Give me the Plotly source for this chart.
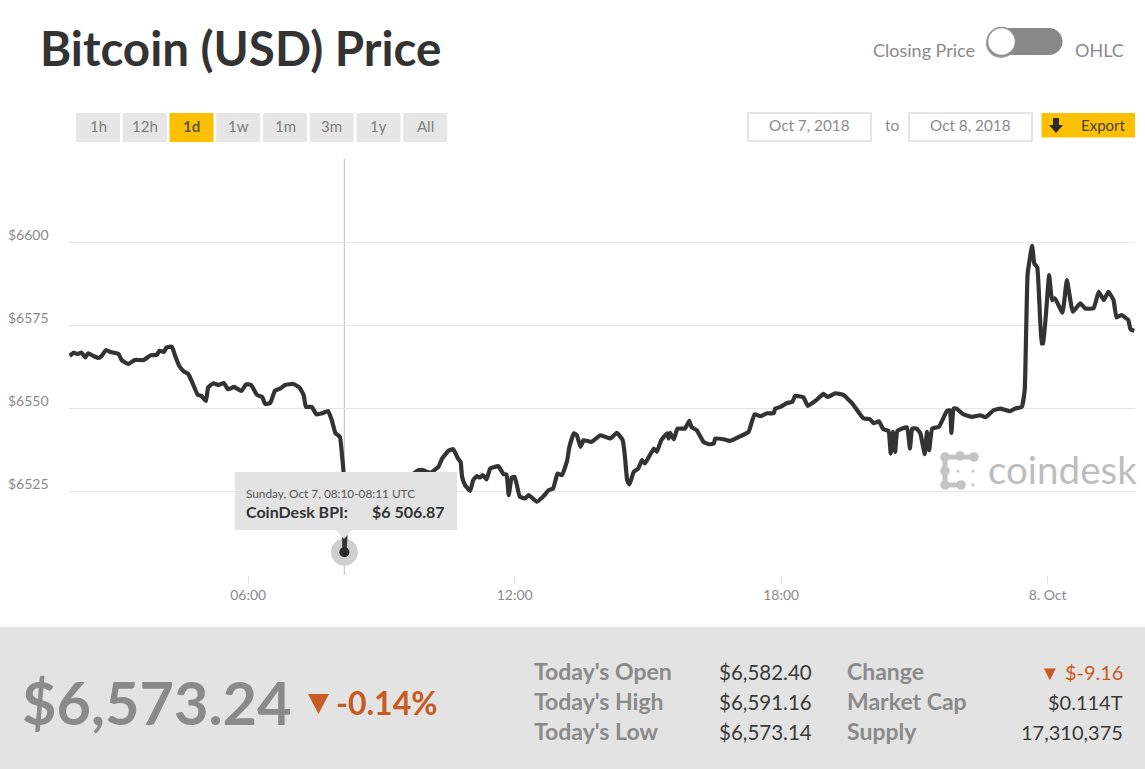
import pandas as pd
import plotly.graph_objects as go

# Minutes after 00:00 UTC on Oct 7, 2018, and the BPI value
minutes = [
    119,124,129,135,140,144,151,158,162,168,174,185,189,198,207,219,228,237,240,246,
    250,257,261,267,273,279,285,292,297,303,306,313,320,327,333,341,351,357,364,372,
    379,383,390,396,403,410,421,429,435,438,446,452,460,468,473,478,484,487,489,490,
    492,496,508,528,555,575,590,596,606,617,622,631,637,644,647,649,653,660,664,669,
    673,677,682,687,698,705,709,712,716,720,727,734,739,750,759,766,772,778,784,791,
    794,800,804,809,813,824,836,849,858,866,869,872,875,881,887,892,896,908,912,918,
    926,928,930,935,940,950,956,959,966,975,982,989,991,1002,1011,1025,1036,1044,1052,1061,
    1070,1072,1079,1088,1095,1099,1110,1116,1128,1137,1143,1153,1164,1176,1191,1200,1205,1212,1218,1225,
    1228,1231,1234,1237,1250,1254,1257,1263,1268,1274,1277,1280,1284,1293,1304,1308,1310,1313,1317,1326,
    1338,1349,1356,1367,1376,1389,1396,1405,1409,1411,1413,1419,1422,1426,1432,1434,1442,1446,1450,1460,
    1466,1474,1484,1491,1502,1509,1516,1522,1529,1533,1540,1549,1552,1557,
]
prices = [
    6565.8,6566.8,6566.4,6566.8,6565.4,6566.6,6565.8,6565.2,6565.8,6567.6,6567,6566.4,6564.6,6563.4,6564.6,6564.6,6566,6566.2,6567.4,6567,
    6568.4,6568.6,6566.1,6562.8,6561.2,6560.4,6557.6,6554.1,6553.8,6552.3,6556.4,6557.6,6557.1,6557.7,6555.8,6556.5,6555.3,6557.3,6557.1,6554.1,
    6553.5,6551.4,6551.7,6555.3,6556,6557.1,6557.4,6556.4,6554.1,6550.5,6550.5,6548.3,6548.6,6549.3,6546.5,6542.6,6541.5,6535.5,6530.6,6506.87,
    6513.5,6518,6521,6523,6525.5,6529,6531.5,6531.5,6530.7,6532.5,6535,6537.4,6537.8,6534.8,6534,6529.5,6527,6525.3,6528.5,6529.7,
    6529.3,6530,6528.7,6532,6532.7,6530.3,6530.2,6524,6529.3,6529.5,6523.5,6523,6524,6522,6523.7,6525.5,6526,6530.5,6530,6534.5,
    6538.5,6542.6,6542,6538.5,6540.5,6540,6542,6541,6542.7,6540.5,6535.5,6528.5,6527.2,6531,6532,6534.5,6533.5,6538,6537,6540.5,
    6542.6,6541,6542.7,6540.8,6544,6544,6546.3,6544.4,6543.5,6540,6539.3,6539.5,6541,6540.8,6540.3,6541.7,6543,6548.3,6547.7,6548.6,
    6548.6,6550,6550.5,6551.7,6552,6553.8,6553.4,6550.8,6552.6,6554.4,6553.5,6554.6,6554.1,6551.6,6547.1,6546.8,6545.6,6546.2,6543.8,6543.3,
    6536.5,6543,6537,6543.3,6544.4,6538,6544,6544,6542.6,6536.3,6543,6537.5,6544,6544.5,6549.3,6549.5,6542.7,6550,6550,6548.3,
    6547.5,6548,6547.4,6549.5,6550,6549.2,6550,6550.5,6555.6,6573.6,6590.6,6598.9,6593.6,6592.4,6569.6,6569.6,6590.1,6582.6,6583.1,6578.8,
    6588.6,6579.1,6581.6,6580.1,6580.1,6585.1,6582.6,6585.1,6582.6,6577.4,6578.1,6576.6,6573.8,6573.4,
]
hover_minute = 490
hover_price = 6506.87
y_ticks = [6600, 6575, 6550, 6525]
x_tick_minutes = [360, 720, 1080, 1440]
x_tick_labels = ["06:00", "12:00", "18:00", "8. Oct"]
range_buttons = ["1h", "12h", "1d", "1w", "1m", "3m", "1y", "All"]
active_button = "1d"
stats_left = [("Today's Open", "$6,582.40"), ("Today's High", "$6,591.16"), ("Today's Low", "$6,573.14")]
stats_right = [("Change", "▼ $-9.16"), ("Market Cap", "$0.114T"), ("Supply", "17,310,375")]

W, H = 1145, 769
L, R, T, B = 69, 1135, 159, 575
FONT = "Lato"
GREY = "#8a8a8a"
DARK = "#333333"
ORANGE = "#c85a22"
PANEL = "#e3e3e3"

origin = pd.Timestamp("2018-10-07 00:00")
to_time = lambda m: origin + pd.Timedelta(minutes=m)
px = lambda x: (x - L) / (R - L)
py = lambda y: (B - y) / (B - T)

shapes, annotations = [], []


def rect(x0, y0, x1, y1, fill, line=None, width=0, layer="above"):
    shapes.append(dict(type="rect", xref="paper", yref="paper", x0=px(x0), x1=px(x1), y0=py(y0), y1=py(y1),
                       fillcolor=fill, line=dict(color=line or fill, width=width), layer=layer))


def circle(cx, cy, r, fill, line=None, width=0):
    shapes.append(dict(type="circle", xref="paper", yref="paper", x0=px(cx - r), x1=px(cx + r), y0=py(cy - r),
                       y1=py(cy + r), fillcolor=fill, line=dict(color=line or fill, width=width), layer="above"))


def seg(x0, y0, x1, y1, color, width):
    shapes.append(dict(type="line", xref="paper", yref="paper", x0=px(x0), x1=px(x1), y0=py(y0), y1=py(y1),
                       line=dict(color=color, width=width), layer="above"))


def poly(points, fill):
    d = "M " + " L ".join(f"{px(x)} {py(y)}" for x, y in points) + " Z"
    shapes.append(dict(type="path", xref="paper", yref="paper", path=d, fillcolor=fill,
                       line=dict(color=fill, width=0), layer="above"))


def text(x, y, s, size, color=GREY, anchor="left", bold=False, family=FONT):
    annotations.append(dict(xref="paper", yref="paper", x=px(x), y=py(y), text=f"<b>{s}</b>" if bold else s,
                            showarrow=False, xanchor=anchor, yanchor="middle", borderpad=0,
                            font=dict(family=family, size=size, color=color)))


# Header
text(39, 48, "Bitcoin (USD) Price", 47.5, DARK, bold=True)
text(976, 50, "Closing Price", 18, GREY, "right")
text(1074, 50, "OHLC", 18, GREY)
rect(1001, 28, 1049, 55, "#888888")
circle(1049, 41.5, 13.5, "#888888")
circle(1001, 43, 15, "#9a9a9a")
circle(1001.5, 41.5, 14, "#ffffff", "#8f8f8f", 1.5)

# Range selector
for i, lab in enumerate(range_buttons):
    x0 = 76 + i * 46.75
    on = lab == active_button
    rect(x0, 113, x0 + 44, 142, "#fdc000" if on else "#e6e6e6")
    text(x0 + 22, 126, lab, 15, "#5a5a5a" if on else "#7d7d7d", "center", bold=on)

# Date range and export
for x0, lab in [(748, "Oct 7, 2018"), (909, "Oct 8, 2018")]:
    rect(x0, 113, x0 + 123, 141, "#ffffff", "#dddddd", 1.5)
    text(x0 + 61, 125, lab, 15.3, GREY, "center")
text(892, 125, "to", 15.5, GREY, "center")
rect(1041.5, 113, 1135, 137.5, "#fdc000")
poly([(1053, 118), (1059, 118), (1059, 125), (1063, 125), (1056, 133), (1049, 125), (1053, 125)], "#2b2b2b")
text(1103, 125, "Export", 15, "#444444", "center")

# Y labels sit above their gridlines
for v in y_ticks:
    annotations.append(dict(xref="paper", yref="y", x=px(50), y=v, yshift=8, text=f"${v}", showarrow=False,
                            xanchor="right", yanchor="middle", borderpad=0,
                            font=dict(family=FONT, size=14, color=GREY)))

# Watermark
for a, b in [((945, 457), (975, 457)), ((945, 457), (945, 485)), ((945, 485), (961, 485))]:
    seg(*a, *b, "#c4c4c4", 5)
for cx, cy in [(945, 457), (960, 456), (974, 457), (945, 471), (945, 485), (961, 485)]:
    circle(cx, cy, 4.8, "#c4c4c4")
for cx, cy, r in [(958, 471, 1.5), (973, 471, 1.5), (973, 485, 1.5)]:
    circle(cx, cy, r, "#c4c4c4")
text(987, 469, "coindesk", 38.5, "#bdbdbd")

# Tooltip
rect(235, 472, 457, 530, PANEL)
poly([(336, 530), (352, 530), (344, 539)], PANEL)
text(245, 493, "Sunday, Oct 7, 08:10-08:11 UTC", 11.8, "#555555")
text(245, 511, "CoinDesk BPI:", 16, DARK, bold=True)
text(446, 511, "$6 506.87", 16, DARK, "right", bold=True)

# Crosshair
shapes.append(dict(type="line", xref="x", yref="paper", x0=to_time(hover_minute), x1=to_time(hover_minute),
                   y0=0, y1=1, line=dict(color="#c8c8c8", width=1.2), layer="below"))

# Summary band
rect(0, 627, 1145, 769, PANEL)
text(21, 702, "$6,573.24", 59.5, GREY, bold=True)
poly([(308, 694), (329, 694), (318.5, 714)], ORANGE)
text(335, 702, "-0.14%", 32, ORANGE, bold=True)
for i, (lab, val) in enumerate(stats_left):
    y = 671 + i * 30
    text(533, y, lab, 23, GREY, bold=True)
    text(813, y + 1, val, 20.5, "#3a3a3a", "right")
for i, (lab, val) in enumerate(stats_right):
    y = 671 + i * 30
    text(846, y, lab, 23, GREY, bold=True)
    text(1124, y + 1, val, 20, ORANGE if lab == "Change" else "#3a3a3a", "right")

times = [to_time(m) for m in minutes]
fig = go.Figure()
fig.add_trace(go.Scatter(x=[to_time(hover_minute)], y=[hover_price], mode="markers",
                         marker=dict(size=27, color="#cfcfcf"), hoverinfo="skip", cliponaxis=False))
fig.add_trace(go.Scatter(x=times, y=prices, mode="lines",
                         line=dict(color="#333333", width=4.2, shape="spline", smoothing=0.35),
                         hoverinfo="skip"))
fig.add_trace(go.Scatter(x=[to_time(hover_minute)], y=[hover_price], mode="markers",
                         marker=dict(size=10, color="#2b2b2b"), hoverinfo="skip"))

fig.update_layout(
    width=W, height=H, margin=dict(l=L, r=W - R, t=T, b=H - B), showlegend=False,
    paper_bgcolor="#ffffff", plot_bgcolor="#ffffff", shapes=shapes, annotations=annotations,
    hovermode=False, font=dict(family=FONT),
    xaxis=dict(type="date", range=[to_time(118), to_time(1558)], tickvals=[to_time(m) for m in x_tick_minutes],
               ticktext=x_tick_labels, ticks="outside", ticklen=7, tickcolor="#e0e0e0", showgrid=False,
               zeroline=False, showline=False, tickfont=dict(family=FONT, size=14, color=GREY)),
    yaxis=dict(range=[6500, 6625], tickvals=[6500, 6525, 6550, 6575, 6600, 6625], showticklabels=False,
               gridcolor="#e6e6e6", gridwidth=1.3, zeroline=False, showline=False, ticks=""),
)
fig.write_html("out.html", config=dict(displayModeBar=False),
               post_script="document.body.style.margin='0';document.body.style.overflow='hidden';")
